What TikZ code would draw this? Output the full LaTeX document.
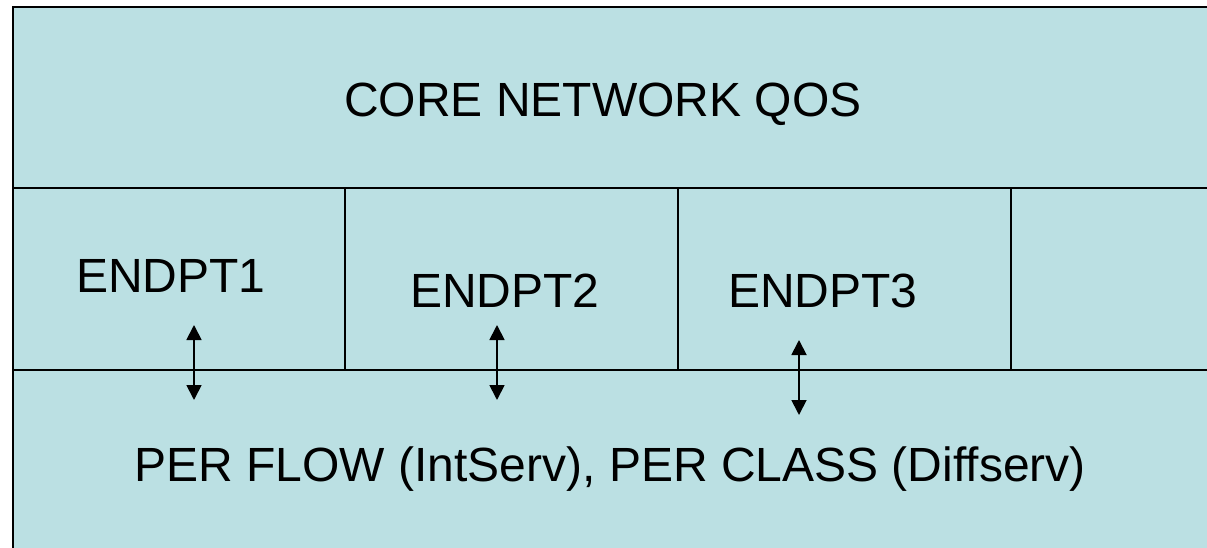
\documentclass[tikz,border=0pt]{standalone}
\usepackage{fontspec}
\setmainfont{Liberation Sans}
\usetikzlibrary{arrows.meta}
\definecolor{panelfill}{RGB}{187,224,227}
\tikzset{
  panel/.style={draw=black, line width=1.6pt, fill=panelfill},
  divider/.style={draw=black, line width=1.5pt},
  label/.style={font=\fontsize{48}{58}\selectfont, inner sep=0pt, anchor=base, text=black},
  dblarrow/.style={line width=1.8pt, {Triangle[width=15pt,length=15pt]}-{Triangle[width=15pt,length=15pt]}}
}
\begin{document}
\begin{tikzpicture}[x=1pt,y=-1pt]
\useasboundingbox (0,0) rectangle (1207,548);
\clip (0,0) rectangle (1207,548);
\fill[white] (0,0) rectangle (1207,548);
\draw[panel] (13,7) rectangle (1225,570);
\draw[divider] (13,188) -- (1225,188);
\draw[divider] (13,370) -- (1225,370);
\draw[divider] (345,188) -- (345,370);
\draw[divider] (678,188) -- (678,370);
\draw[divider] (1011,188) -- (1011,370);
\node[label] (core) at (603,117) {CORE NETWORK QOS};
\node[label] (e1) at (171,292) {ENDPT1};
\node[label] (e2) at (505,307) {ENDPT2};
\node[label] (e3) at (823,307) {ENDPT3};
\node[label] (flow) at (610,481) {PER FLOW (IntServ), PER CLASS (Diffserv)};
\coordinate (a1t) at (194,325);
\coordinate (a1b) at (194,400);
\coordinate (a2t) at (497,325);
\coordinate (a2b) at (497,400);
\coordinate (a3t) at (799,340);
\coordinate (a3b) at (799,415);
\draw[dblarrow] (a1t) -- (a1b);
\draw[dblarrow] (a2t) -- (a2b);
\draw[dblarrow] (a3t) -- (a3b);
\end{tikzpicture}
\end{document}
